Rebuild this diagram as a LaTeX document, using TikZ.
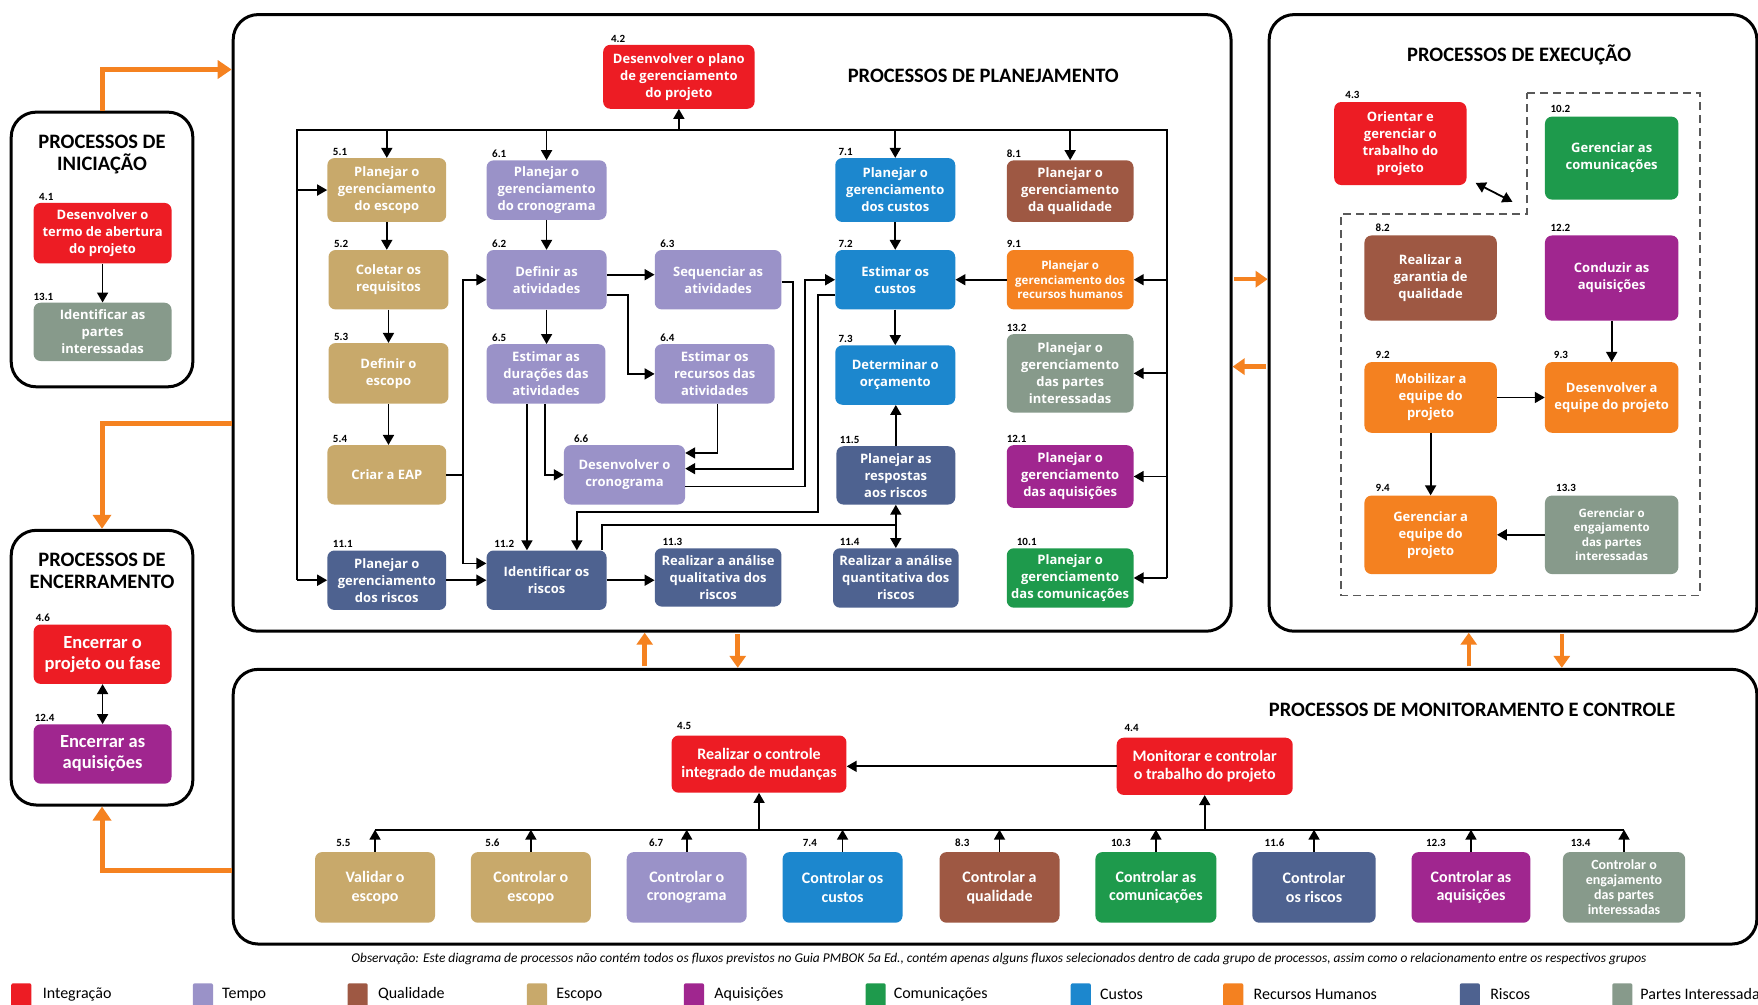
\documentclass[tikz,border=0pt]{standalone}
\usepackage{fontspec}
\setmainfont{Open Sans}
\newfontfamily\carl{Carlito}
\usetikzlibrary{arrows.meta,calc}

\definecolor{cInt}{HTML}{ED1C24}
\definecolor{cTem}{HTML}{9A92C8}
\definecolor{cQua}{HTML}{9E5843}
\definecolor{cEsc}{HTML}{C8A96B}
\definecolor{cAqu}{HTML}{A0268F}
\definecolor{cCom}{HTML}{1E9A4C}
\definecolor{cCus}{HTML}{1C87CE}
\definecolor{cRH}{HTML}{F48120}
\definecolor{cRis}{HTML}{4E6290}
\definecolor{cPar}{HTML}{879A8B}
\definecolor{cOr}{HTML}{F58220}

\newcommand\lb[4][-2]{\node[numl] (#2l) at ($(#2.north west)+(#3,#1)$) {#4};}

\begin{document}
\begin{tikzpicture}[x=1.121173pt, y=-1.121173pt,
  bx/.style n args={4}{minimum width={(#3-#1)*1.121173pt}, minimum height={(#4-#2)*1.121173pt}, at={({(#1+#3)/2},{(#2+#4)/2})}},
  pb/.style={rectangle, rounded corners=7pt, text=white, align=center, inner sep=1pt, font=\bfseries\fontsize{13}{17}\selectfont},
  fb/.style={font=\bfseries\fontsize{11.5}{14.5}\selectfont},
  fc/.style={font=\carl\bfseries\fontsize{16}{18.5}\selectfont},
  fd/.style={font=\carl\bfseries\fontsize{14}{15}\selectfont},
  fe/.style={font=\carl\bfseries\fontsize{18.5}{21}\selectfont},
  numl/.style={anchor=south west, inner sep=0pt, font=\carl\bfseries\fontsize{11}{11}\selectfont},
  grp/.style={rectangle, draw=black, line width=3pt, rounded corners=25pt},
  ttl/.style={align=center, inner sep=0pt, font=\carl\bfseries\fontsize{20.5}{22}\selectfont},
  ln/.style={line width=1.8pt},
  arr/.style={line width=1.8pt, -{Triangle[length=10pt,width=11pt]}},
  darr/.style={line width=1.8pt, {Triangle[length=10pt,width=11pt]}-{Triangle[length=10pt,width=11pt]}},
  oarr/.style={draw=cOr, line width=5pt, -{Triangle[length=14pt,width=18pt]}},
  oarr2/.style={draw=cOr, line width=4.5pt, shorten <=1.5pt, -{Triangle[length=12pt,width=16pt]}},
  dreg/.style={draw=black!65, line width=1.6pt, dash pattern=on 8pt off 5pt},
  lsq/.style={rectangle, rounded corners=2pt},
  ltx/.style={anchor=west, inner sep=0pt, font=\carl\fontsize{16}{16}\selectfont},
]
\useasboundingbox (0,0) rectangle (1568,896);
\fill[white] (0,0) rectangle (1568,896);

% ---------- group frames ----------
\node[grp, bx={10}{100}{172}{345}] (ini) {};
\node[grp, bx={10}{473}{172}{718}] (enc) {};
\node[grp, bx={208}{13}{1098}{563}] (plan) {};
\node[grp, bx={1132}{13}{1567}{563}] (exec) {};
\node[grp, bx={208}{597}{1567}{842}] (mon) {};

\node[ttl] (ini-t) at (91,138) {PROCESSOS DE\\INICIAÇÃO};
\node[ttl] (enc-t) at (91,509) {PROCESSOS DE\\ENCERRAMENTO};
\node[ttl] (plan-t) at (877,68) {PROCESSOS DE PLANEJAMENTO};
\node[ttl] (exec-t) at (1355,49) {PROCESSOS DE EXECUÇÃO};
\node[ttl] (mon-t) at (1313,633) {PROCESSOS DE MONITORAMENTO E CONTROLE};

% ---------- orange connectors ----------
\draw[oarr] (ini.north) |- (plan.west |- 0,62);
\draw[oarr] (plan.west |- 0,378) -| (enc.north);
\draw[oarr] (mon.west |- 0,776) -| (enc.south);
\draw[oarr2] (plan.east |- 0,249) -- (exec.west |- 0,249);
\draw[oarr2] (exec.west |- 0,327) -- (plan.east |- 0,327);
\draw[oarr2] (mon.north -| 575,0) -- (plan.south -| 575,0);
\draw[oarr2] (plan.south -| 658,0) -- (mon.north -| 658,0);
\draw[oarr2] (mon.north -| 1310,0) -- (exec.south -| 1310,0);
\draw[oarr2] (exec.south -| 1393,0) -- (mon.north -| 1393,0);

% ---------- iniciação / encerramento ----------
\node[pb, bx={30}{181}{153}{235}, fill=cInt] (n41) {Desenvolver o\\termo de abertura\\do projeto}; \lb{n41}{5}{4.1}
\node[pb, bx={30}{270}{153}{322}, fill=cPar] (n131) {Identificar as\\partes\\interessadas}; \lb{n131}{0}{13.1}
\draw[arr] (n41.south) -- (n131.north);

\node[pb, fe, bx={30}{557}{153}{610}, fill=cInt] (n46) {Encerrar o\\projeto ou fase}; \lb{n46}{2}{4.6}
\node[pb, fe, bx={30}{646}{153}{699}, fill=cAqu] (n124) {Encerrar as\\aquisições}; \lb{n124}{1}{12.4}
\draw[darr] (n46.south) -- (n124.north);

% ---------- planejamento ----------
\node[pb, bx={538}{40}{673}{97}, fill=cInt] (n42) {Desenvolver o plano\\de gerenciamento\\do projeto}; \lb{n42}{7}{4.2}
\node[pb, bx={292}{141}{398}{198}, fill=cEsc] (n51) {Planejar o\\gerenciamento\\do escopo}; \lb{n51}{5}{5.1}
\node[pb, bx={434}{143}{541}{196}, fill=cTem] (n61) {Planejar o\\gerenciamento\\do cronograma}; \lb{n61}{5}{6.1}
\node[pb, bx={745}{141}{852}{198}, fill=cCus] (n71) {Planejar o\\gerenciamento\\dos custos}; \lb{n71}{3}{7.1}
\node[pb, bx={898}{143}{1011}{198}, fill=cQua] (n81) {Planejar o\\gerenciamento\\da qualidade}; \lb{n81}{0}{8.1}
\node[pb, bx={293}{223}{400}{276}, fill=cEsc] (n52) {Coletar os\\requisitos}; \lb{n52}{5}{5.2}
\node[pb, bx={434}{223}{541}{276}, fill=cTem] (n62) {Definir as\\atividades}; \lb{n62}{5}{6.2}
\node[pb, bx={584}{223}{697}{276}, fill=cTem] (n63) {Sequenciar as\\atividades}; \lb{n63}{5}{6.3}
\node[pb, bx={745}{223}{852}{276}, fill=cCus] (n72) {Estimar os\\custos}; \lb{n72}{3}{7.2}
\node[pb, fb, bx={898}{223}{1011}{276}, fill=cRH] (n91) {Planejar o\\gerenciamento dos\\recursos humanos}; \lb{n91}{0}{9.1}
\node[pb, bx={293}{306}{400}{360}, fill=cEsc] (n53) {Definir o\\escopo}; \lb{n53}{5}{5.3}
\node[pb, bx={434}{307}{540}{360}, fill=cTem] (n65) {Estimar as\\durações das\\atividades}; \lb{n65}{5}{6.5}
\node[pb, bx={584}{307}{691}{360}, fill=cTem] (n64) {Estimar os\\recursos das\\atividades}; \lb{n64}{5}{6.4}
\node[pb, bx={745}{308}{852}{361}, fill=cCus] (n73) {Determinar o\\orçamento}; \lb{n73}{3}{7.3}
\node[pb, bx={898}{298}{1011}{368}, fill=cPar] (n132) {Planejar o\\gerenciamento\\das partes\\interessadas}; \lb{n132}{0}{13.2}
\node[pb, bx={292}{397}{398}{450}, fill=cEsc] (n54) {Criar a EAP}; \lb{n54}{5}{5.4}
\node[pb, bx={503}{397}{611}{450}, fill=cTem] (n66) {Desenvolver o\\cronograma}; \lb{n66}{9}{6.6}
\node[pb, bx={746}{398}{852}{450}, fill=cRis] (n115) {Planejar as\\respostas\\aos riscos}; \lb{n115}{3}{11.5}
\node[pb, bx={898}{397}{1011}{453}, fill=cAqu] (n121) {Planejar o\\gerenciamento\\das aquisições}; \lb{n121}{0}{12.1}
\node[pb, bx={292}{491}{398}{544}, fill=cRis] (n111) {Planejar o\\gerenciamento\\dos riscos}; \lb{n111}{5}{11.1}
\node[pb, bx={434}{491}{541}{544}, fill=cRis] (n112) {Identificar os\\riscos}; \lb{n112}{7}{11.2}
\node[pb, bx={584}{489}{697}{541}, fill=cRis] (n113) {Realizar a análise\\qualitativa dos\\riscos}; \lb{n113}{7}{11.3}
\node[pb, bx={743}{489}{855}{542}, fill=cRis] (n114) {Realizar a análise\\quantitativa dos\\riscos}; \lb{n114}{6}{11.4}
\node[pb, bx={898}{489}{1011}{542}, fill=cCom] (n101) {Planejar o\\gerenciamento\\das comunicações}; \lb{n101}{9}{10.1}

\coordinate (ftl) at (265,116);
\coordinate (ftr) at (1041,116);
\draw[ln] (ftl |- n111.west) -- (ftl) -- (ftr) -- (ftr |- n101.east);
\draw[arr] (n42.south |- ftl) -- (n42.south);
\draw[arr] (n51.north |- ftl) -- (n51.north);
\draw[arr] (n61.north |- ftl) -- (n61.north);
\draw[arr] (n71.north |- ftl) -- (n71.north);
\draw[arr] (n81.north |- ftl) -- (n81.north);
\draw[arr] (ftl |- n51.west) -- (n51.west);
\draw[arr] (ftl |- n111.west) -- (n111.west);
\draw[arr] (ftr |- n91.east) -- (n91.east);
\draw[arr] (ftr |- n132.east) -- (n132.east);
\draw[arr] (ftr |- n121.east) -- (n121.east);
\draw[arr] (ftr |- n101.east) -- (n101.east);

\draw[arr] (n51.south) -- (n51.south |- n52.north);
\draw[arr] (n52.south) -- (n52.south |- n53.north);
\draw[arr] (n53.south) -- (n53.south |- n54.north);
\draw[arr] (n61.south) -- (n61.south |- n62.north);
\draw[arr] (n62.south) -- (n62.south |- n65.north);
\draw[arr] (n62.east |- 0,245) -- (n63.west |- 0,245);
\draw[arr] (n62.east |- 0,263) -- (560,263) |- (n64.west);
\draw[arr] (n54.east) -- (n54.east -| 413,0) |- (n62.west);
\draw[arr] (n54.east -| 413,0) |- ($(n112.west)+(0,-15)$);
\draw[arr] (n111.east) -- (n111.east -| n112.west);
\draw[arr] (n112.east) -- (n112.east -| n113.west);
\draw[arr] (n65.south -| 470,0) -- (n112.north -| 470,0);
\draw[arr] (n65.south -| 486,0) |- (n66.west);
\draw[arr] (n64.south -| 640,0) |- (n66.east |- 0,404);
\draw[arr] (n63.east |- 0,251.5) -| (707,418) -- (n66.east |- 0,418);
\draw[arr] (n66.east |- 0,434) -| (718,300) |- (n72.west);
\draw[arr] (n72.west |- 0,263) -| (729.5,456.5) -| (n112.north -| 514.5,0);
\coordinate (j11) at (799,468);
\draw[ln] (n112.north -| 537,0) |- (j11);
\draw[arr] (j11) -- (n115.south);
\draw[arr] (j11) -- (n114.north);
\draw[arr] (n71.south) -- (n71.south |- n72.north);
\draw[arr] (n72.south) -- (n72.south |- n73.north);
\draw[arr] (n115.north) -- (n115.north |- n73.south);
\draw[arr] (n91.west) -- (n91.west -| n72.east);

% ---------- execução ----------
\draw[dreg] (1362,83) -- (1516,83) -- (1516,531) -- (1196,531) -- (1196,191) -- (1362,191) -- cycle;
\coordinate (dnotch) at (1362,191);
\node[pb, bx={1190}{91}{1308}{165}, fill=cInt] (n43) {Orientar e\\gerenciar o\\trabalho do\\projeto}; \lb[-3]{n43}{10}{4.3}
\node[pb, bx={1378}{104}{1497}{178}, fill=cCom] (n102) {Gerenciar as\\comunicações}; \lb[-3]{n102}{5}{10.2}
\node[pb, bx={1217}{210}{1335}{286}, fill=cQua] (n82) {Realizar a\\garantia de\\qualidade}; \lb[-3]{n82}{10}{8.2}
\node[pb, bx={1378}{210}{1497}{286}, fill=cAqu] (n122) {Conduzir as\\aquisições}; \lb[-3]{n122}{5}{12.2}
\node[pb, bx={1217}{323}{1335}{386}, fill=cRH] (n92) {Mobilizar a\\equipe do\\projeto}; \lb[-3]{n92}{10}{9.2}
\node[pb, bx={1378}{323}{1497}{386}, fill=cRH] (n93) {Desenvolver a\\equipe do projeto}; \lb[-3]{n93}{8}{9.3}
\node[pb, bx={1217}{442}{1335}{512}, fill=cRH] (n94) {Gerenciar a\\equipe do\\projeto}; \lb[-3]{n94}{10}{9.4}
\node[pb, fb, bx={1378}{442}{1497}{512}, fill=cPar] (n133) {Gerenciar o\\engajamento\\das partes\\interessadas}; \lb[-3]{n133}{10}{13.3}
\draw[darr] ($(n43.south east)+(8,-2)$) -- ($(dnotch)+(-13,-11)$);
\draw[arr] (n122.south) -- (n122.south |- n93.north);
\draw[arr] (n92.east) -- (n92.east -| n93.west);
\draw[arr] (n92.south) -- (n92.south |- n94.north);
\draw[arr] (n133.west) -- (n133.west -| n94.east);

% ---------- monitoramento e controle ----------
\node[pb, fc, bx={599}{656}{755}{707}, fill=cInt] (n45) {Realizar o controle\\integrado de mudanças}; \lb[-5]{n45}{5}{4.5}
\node[pb, fc, bx={996}{658}{1153}{709}, fill=cInt] (n44) {Monitorar e controlar\\o trabalho do projeto}; \lb[-5]{n44}{7}{4.4}
\node[pb, fc, bx={281}{760}{388}{823}, fill=cEsc] (n55) {Validar o\\escopo}; \lb[-5]{n55}{19}{5.5}
\node[pb, fc, bx={420}{760}{527}{823}, fill=cEsc] (n56) {Controlar o\\escopo}; \lb[-5]{n56}{13}{5.6}
\node[pb, fc, bx={559}{760}{666}{823}, fill=cTem] (n67) {Controlar o\\cronograma}; \lb[-5]{n67}{20}{6.7}
\node[pb, fc, bx={698}{760}{805}{823}, fill=cCus] (n74) {Controlar os\\custos}; \lb[-5]{n74}{18}{7.4}
\node[pb, fc, bx={838}{760}{945}{823}, fill=cQua] (n83) {Controlar a\\qualidade}; \lb[-5]{n83}{14}{8.3}
\node[pb, fc, bx={977}{760}{1085}{823}, fill=cCom] (n103) {Controlar as\\comunicações}; \lb[-5]{n103}{14}{10.3}
\node[pb, fc, bx={1117}{760}{1227}{823}, fill=cRis] (n116) {Controlar\\os riscos}; \lb[-5]{n116}{11}{11.6}
\node[pb, fc, bx={1259}{760}{1365}{823}, fill=cAqu] (n123) {Controlar as\\aquisições}; \lb[-5]{n123}{13}{12.3}
\node[pb, fd, bx={1394}{760}{1503}{823}, fill=cPar] (n134) {Controlar o\\engajamento\\das partes\\interessadas}; \lb[-5]{n134}{7}{13.4}

\coordinate (bus) at (0,740);
\draw[arr] (n44.west) -- (n44.west -| n45.east);
\draw[ln] (n55.north |- bus) -- (n134.north |- bus);
\draw[arr] (n45.south |- bus) -- (n45.south);
\draw[arr] (n44.south |- bus) -- (n44.south);
\foreach \b in {n55,n56,n67,n74,n83,n103,n116,n123,n134}
  \draw[arr] (\b.north) -- (\b.north |- bus);

% ---------- note and legend ----------
\node[inner sep=0pt, font=\carl\itshape\fontsize{13.4}{14}\selectfont] (note) at (891,855.5) {Observação: Este diagrama de processos não contém todos os fluxos previstos no Guia PMBOK 5a Ed., contém apenas alguns fluxos selecionados dentro de cada grupo de processos, assim como o relacionamento entre os respectivos grupos};

\node[lsq, bx={10}{877}{28}{902}, fill=cInt] (lg1) {}; \node[ltx] (lg1t) at (38,887) {Integração};
\node[lsq, bx={172}{877}{190}{902}, fill=cTem] (lg2) {}; \node[ltx] (lg2t) at (198,887) {Tempo};
\node[lsq, bx={310}{877}{328}{902}, fill=cQua] (lg3) {}; \node[ltx] (lg3t) at (337,887) {Qualidade};
\node[lsq, bx={470}{877}{488}{902}, fill=cEsc] (lg4) {}; \node[ltx] (lg4t) at (496,887) {Escopo};
\node[lsq, bx={610}{877}{628}{902}, fill=cAqu] (lg5) {}; \node[ltx] (lg5t) at (637,887) {Aquisições};
\node[lsq, bx={772}{877}{790}{902}, fill=cCom] (lg6) {}; \node[ltx] (lg6t) at (797,887) {Comunicações};
\node[lsq, bx={955}{877}{973}{902}, fill=cCus] (lg7) {}; \node[ltx] (lg7t) at (981,887) {Custos};
\node[lsq, bx={1091}{877}{1109}{902}, fill=cRH] (lg8) {}; \node[ltx] (lg8t) at (1118,887) {Recursos Humanos};
\node[lsq, bx={1302}{877}{1320}{902}, fill=cRis] (lg9) {}; \node[ltx] (lg9t) at (1329,887) {Riscos};
\node[lsq, bx={1438}{877}{1456}{902}, fill=cPar] (lg10) {}; \node[ltx] (lg10t) at (1463,887) {Partes Interessadas};
\end{tikzpicture}
\end{document}
